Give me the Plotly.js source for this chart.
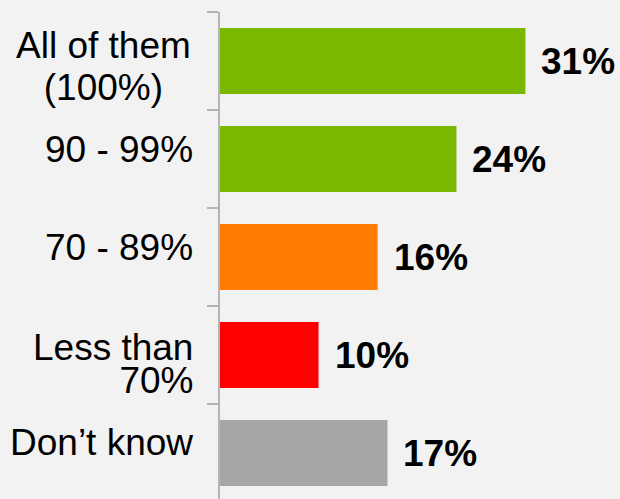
<!DOCTYPE html>
<html>
<head>
<meta charset="utf-8">
<script src="https://cdn.plot.ly/plotly-3.0.1.min.js"></script>
<style>
  html, body { margin: 0; padding: 0; background: #f2f2f2; overflow: hidden; }
  #chart { width: 620px; height: 502px; }
</style>
</head>
<body>
<div id="chart"></div>
<script>
// ---- data ----
var categories = ["All of them<br>(100%)", "90 - 99%", "70 - 89%", "Less than<br>70%", "Don\u2019t know"];
var values = [31, 24, 16, 10, 17];
var valueLabels = ["31%", "24%", "16%", "10%", "17%"];

// ---- styles (label placement, px) ----
var barColors = ["#7ab800", "#7ab800", "#ff7c00", "#ff0000", "#a6a6a6"];
var labelAlign = ["center", "right", "right", "right", "right"];
var labelCenterShift = [-5, 10, 10, -9, 11];   // + = up
var labelLineGap = [42, 48, 48, 33, 48];
var axisGray = "#b4b4b4";
var fontFam = "Liberation Sans, Arial, sans-serif";
var labelSize = 37;

var trace = {
  type: "bar",
  orientation: "h",
  x: values,
  y: categories,
  marker: { color: barColors, line: { width: 0 } },
  hoverinfo: "none"
};

var annotations = [];
categories.forEach(function (c, i) {
  var lines = c.split("<br>");
  var centered = labelAlign[i] === "center";
  var txt = lines.map(function (ln) {
    return '<span style="font-size:' + labelSize + 'px">' + ln + '</span>';
  }).join("<br>");
  annotations.push({
    xref: "paper", yref: "y", x: 0, y: c,
    xanchor: centered ? "center" : "right", yanchor: "middle",
    xshift: centered ? -117 : -25,
    yshift: labelCenterShift[i],
    text: txt, align: labelAlign[i], showarrow: false,
    font: { family: fontFam, size: labelLineGap[i] / 1.3, color: "#000000" }
  });
  annotations.push({
    xref: "x", yref: "y", x: values[i], y: c,
    xanchor: "left", yanchor: "middle", xshift: 14,
    text: "<b>" + valueLabels[i] + "</b>", showarrow: false,
    font: { family: fontFam, size: 37, color: "#000000" }
  });
});

var layout = {
  width: 620, height: 502,
  margin: { l: 220, r: 0, t: 12, b: 0, pad: 0 },
  paper_bgcolor: "#f2f2f2", plot_bgcolor: "#f2f2f2",
  showlegend: false,
  bargap: 0.327,
  xaxis: { range: [0, 40.6], showgrid: false, zeroline: false, showline: false, showticklabels: false, ticks: "" },
  yaxis: {
    type: "category", autorange: false, range: [4.5, -0.5],
    showline: true, linecolor: axisGray, linewidth: 2,
    ticks: "outside", tickson: "boundaries", ticklen: 11, tickwidth: 2, tickcolor: axisGray,
    showticklabels: false, showgrid: false, zeroline: false
  },
  annotations: annotations
};

Plotly.newPlot("chart", [trace], layout, { staticPlot: true, displayModeBar: false });
</script>
</body>
</html>
